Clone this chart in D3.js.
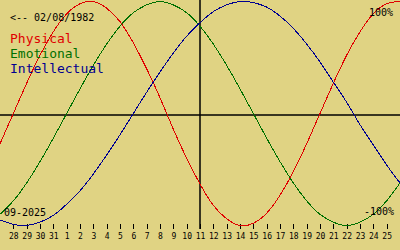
<!DOCTYPE html>
<html>
<head>
<meta charset="utf-8">
<script src="https://cdn.jsdelivr.net/npm/d3@7"></script>
<style>
  body { margin: 0; background: #e0d383; }
  svg { display: block; }
</style>
</head>
<body>
<div id="bio"></div>
<script>
// days shown on the axis (28 Aug .. 25 Sep 2025)
let dayLabels = ["28", "29", "30", "31", "1", "2", "3", "4", "5", "6", "7", "8", "9", "10",
                 "11", "12", "13", "14", "15", "16", "17", "18", "19", "20", "21", "22",
                 "23", "24", "25"];
// curve values, one per day from 27 Aug (off the left edge) to 26 Sep (off the right edge)
let physical = [-0.27, 0, 0.27, 0.52, 0.73, 0.89, 0.98, 1.00, 0.94, 0.82, 0.63, 0.40, 0.14,
                -0.14, -0.40, -0.63, -0.82, -0.94, -1.00, -0.98, -0.89, -0.73, -0.52, -0.27,
                0, 0.27, 0.52, 0.73, 0.89, 0.98, 1.00];
let emotional = [-0.90, -0.78, -0.62, -0.43, -0.22, 0, 0.22, 0.43, 0.62, 0.78, 0.90, 0.97, 1.00,
                 0.97, 0.90, 0.78, 0.62, 0.43, 0.22, 0, -0.22, -0.43, -0.62, -0.78, -0.90,
                 -0.97, -1.00, -0.97, -0.90, -0.78, -0.62];
let intellectual = [-0.95, -0.99, -1.00, -0.97, -0.91, -0.81, -0.69, -0.54, -0.37, -0.19, 0,
                    0.19, 0.37, 0.54, 0.69, 0.81, 0.91, 0.97, 1.00, 0.99, 0.95, 0.87, 0.76,
                    0.62, 0.46, 0.28, 0.10, -0.10, -0.28, -0.46, -0.62];
let seriesNames = ["Physical", "Emotional", "Intellectual"];
let seriesColors = ["#e00000", "#007000", "#000090"];
let birthText = "<-- 02/08/1982",
    monthText = "09-2025",
    topText = "100%",
    bottomText = "-100%";

{
  var width = 400,
      height = 250;
  var mono = "'DejaVu Sans Mono', monospace";

  var svg = d3.select("#bio")
    .append("svg")
      .attr("width", width)
      .attr("height", height);

  svg.append("rect")
    .attr("width", width)
    .attr("height", height)
    .attr("fill", "#e0d383");

  // x: day index, -1 .. 29 spans the full width
  var scalex = d3.scaleLinear()
    .domain([-1, 29])
    .range([0, width]);
  // y: -100% .. 100%
  var scaley = d3.scaleLinear()
    .domain([-1, 1])
    .range([225.5, 1.5]);

  // cross lines
  svg.append("line")
    .attr("x1", 0).attr("x2", width)
    .attr("y1", 115).attr("y2", 115)
    .attr("stroke", "#000").attr("stroke-width", 1.5);
  svg.append("line")
    .attr("x1", scalex(14)).attr("x2", scalex(14))
    .attr("y1", 0).attr("y2", 229)
    .attr("stroke", "#000").attr("stroke-width", 1.5);

  // day axis
  var axis = svg.append("g")
    .attr("transform", "translate(0,224)")
    .call(d3.axisBottom(scalex)
      .tickValues(d3.range(dayLabels.length))
      .tickFormat(i => dayLabels[i])
      .tickSize(5)
      .tickPadding(4));
  axis.select(".domain").remove();
  axis.selectAll("line").attr("stroke", "#000").attr("shape-rendering", "crispEdges");
  axis.selectAll("text")
    .style("font", "8px " + mono)
    .attr("fill", "#000");

  var line = d3.line()
    .x((d, i) => scalex(i - 1))
    .y(d => scaley(d))
    .curve(d3.curveNatural);

  [physical, emotional, intellectual].forEach(function(s, k) {
    svg.append("path")
      .datum(s)
      .attr("d", line)
      .attr("fill", "none")
      .attr("stroke", seriesColors[k])
      .attr("stroke-width", 1)
      .attr("shape-rendering", "crispEdges");
  });

  // texts
  svg.append("text")
    .attr("x", 10).attr("y", 20.5)
    .style("font", "10px " + mono)
    .text(birthText);

  seriesNames.forEach(function(n, k) {
    svg.append("text")
      .attr("x", 10).attr("y", 43 + k * 15)
      .style("font", "13px " + mono)
      .attr("fill", seriesColors[k])
      .text(n);
  });

  svg.append("text")
    .attr("x", 393).attr("y", 16)
    .style("font", "10px " + mono)
    .style("text-anchor", "end")
    .text(topText);
  svg.append("text")
    .attr("x", 394).attr("y", 215)
    .style("font", "10px " + mono)
    .style("text-anchor", "end")
    .text(bottomText);
  svg.append("text")
    .attr("x", 4).attr("y", 216)
    .style("font", "10px " + mono)
    .text(monthText);
}
</script>
</body>
</html>
